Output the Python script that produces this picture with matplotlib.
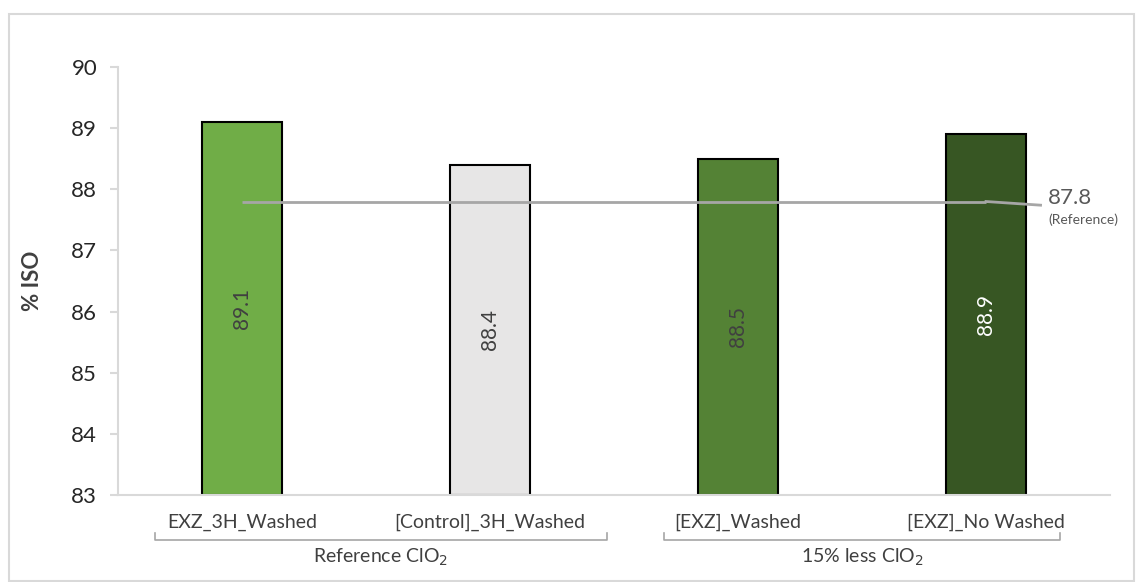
import matplotlib.pyplot as plt
from matplotlib.patches import Rectangle

# Brightness per treatment
categories = ["EXZ_3H_Washed", "[Control]_3H_Washed", "[EXZ]_Washed", "[EXZ]_No Washed"]
values = [89.1, 88.4, 88.5, 88.9]
bar_colors = ["#70AD47", "#E7E6E6", "#548235", "#375623"]
label_colors = ["#404040", "#404040", "#404040", "#FFFFFF"]

groups = ["Reference ClO$_2$", "15% less ClO$_2$"]
group_spans = [(-0.35, 1.47), (1.70, 3.30)]

reference_value = 87.8
y_ticks = [83, 84, 85, 86, 87, 88, 89, 90]

plt.rcParams['font.family'] = ['Lato', 'DejaVu Sans']

fig = plt.figure(figsize=(11.36, 5.82), dpi=100)
ax = fig.add_axes([118 / 1136, 87 / 582, (1110 - 118) / 1136, (495 - 67) / 582])

# Chart frame
fig.patches.append(Rectangle((9 / 1136, 1 / 582), 1125 / 1136, 567 / 582,
                             transform=fig.transFigure, fill=False,
                             edgecolor="#D9D9D9", linewidth=1.5))

x = list(range(len(categories)))
bars = ax.bar(x, [v - 83 for v in values], bottom=83, width=0.32,
              color=bar_colors, edgecolor="black", linewidth=1.5, zorder=2)

for xi, v, c in zip(x, values, label_colors):
    ax.text(xi, (83 + v) / 2, f"{v:.1f}", rotation=90, ha="center", va="center",
            fontsize=15, color=c, zorder=4)

# Reference line across the bars, with a short leader to its label
ax.plot([x[0], x[-1]], [reference_value, reference_value], color="#A6A6A6",
        linewidth=2, zorder=3, solid_capstyle="butt")
ax.plot([x[-1], x[-1] + 0.22], [reference_value, reference_value - 0.06],
        color="#A6A6A6", linewidth=2, zorder=3, clip_on=False)
ax.text(x[-1] + 0.25, reference_value + 0.05, f"{reference_value}", fontsize=16,
        color="#595959", ha="left", va="center")
ax.text(x[-1] + 0.25, reference_value - 0.29, "(Reference)", fontsize=10,
        color="#595959", ha="left", va="center")

ax.set_xlim(-0.5, len(categories) - 0.5)
ax.set_ylim(83, 90)
ax.set_yticks(y_ticks)
ax.tick_params(axis="y", labelsize=16, colors="#D9D9D9", labelcolor="#262626",
               length=6, width=1.5, pad=9)
ax.set_xticks([])
for side in ["top", "right"]:
    ax.spines[side].set_visible(False)
for side in ["left", "bottom"]:
    ax.spines[side].set_color("#D9D9D9")
    ax.spines[side].set_linewidth(1.5)

ax.set_ylabel("% ISO", fontsize=16, fontweight="bold", color="#404040", labelpad=20)

# Category labels and group brackets underneath
tr = ax.get_xaxis_transform()
for xi, name in zip(x, categories):
    ax.text(xi, -0.065, name, transform=tr, ha="center", va="center",
            fontsize=14, color="#404040")
for (x0, x1), name in zip(group_spans, groups):
    ax.plot([x0, x0, x1, x1], [-0.088, -0.105, -0.105, -0.088], transform=tr,
            color="#A6A6A6", linewidth=1.2, clip_on=False)
    ax.text((x0 + x1) / 2, -0.145, name, transform=tr, ha="center", va="center",
            fontsize=14, color="#404040")

fig.savefig("out.png", dpi=100)
